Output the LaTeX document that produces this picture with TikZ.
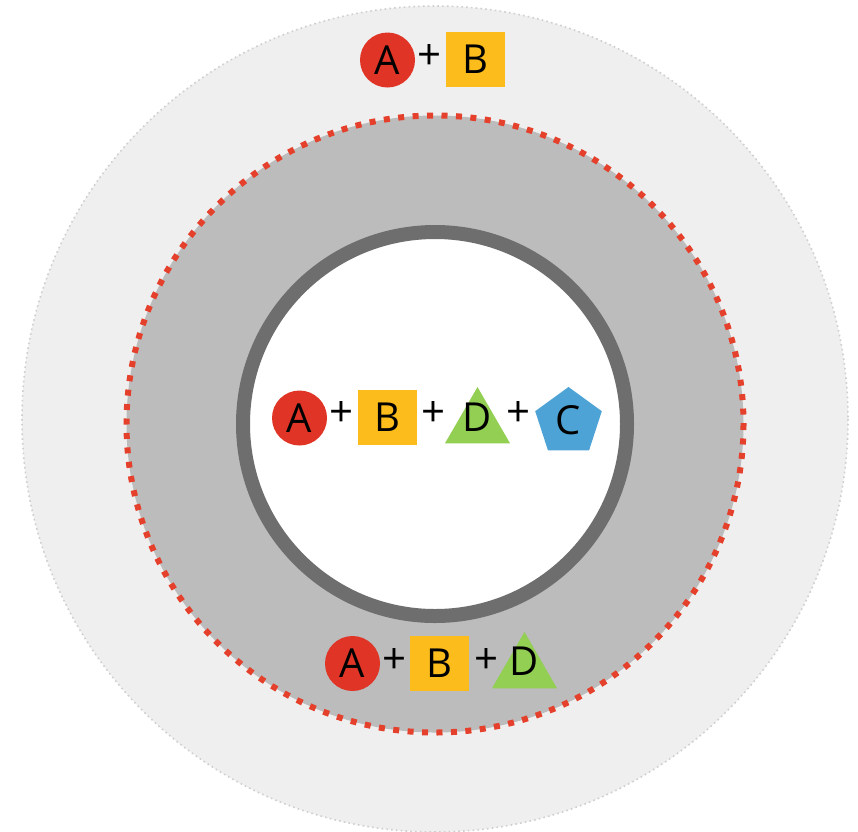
\documentclass[tikz,border=0pt]{standalone}
\usepackage{fontspec}
\setmainfont{Open Sans}
\usetikzlibrary{shapes.geometric}
\definecolor{redA}{HTML}{DF3426}
\definecolor{yelB}{HTML}{FBBC1C}
\definecolor{grnD}{HTML}{92CF53}
\definecolor{bluC}{HTML}{4DA3D5}
\definecolor{ringdark}{HTML}{6E6E6E}
\definecolor{ringfill}{HTML}{BBBCBB}
\definecolor{outerfill}{HTML}{EFEFEF}
\definecolor{outerline}{HTML}{CFCFCF}
\definecolor{dotred}{HTML}{E5402B}
\tikzset{
  x=1pt, y=-1pt,
  letter/.style={inner sep=0pt, font=\fontsize{40}{40}\selectfont, text=black},
  plussign/.style={inner sep=0pt, font=\fontsize{42}{42}\selectfont, text=black},
  circA/.style={circle, fill=redA, minimum size=55pt, inner sep=0pt},
  sqB/.style={rectangle, fill=yelB, minimum width=59pt, minimum height=55pt, inner sep=0pt},
  triD/.style={regular polygon, regular polygon sides=3, fill=grnD, minimum size=75pt, inner sep=0pt},
  pentC/.style={regular polygon, regular polygon sides=5, fill=bluC, minimum size=70pt, inner sep=0pt},
}
\begin{document}
\begin{tikzpicture}
\useasboundingbox (0,0) rectangle (858,831);
\fill[white] (0,0) rectangle (858,831);
% outer zone
\fill[outerfill] (435,419) circle[radius=413];
\draw[outerline, line width=1.6pt, dash pattern=on 1.6pt off 3.2pt] (435,419) circle[radius=413];
% middle zone
\fill[ringfill] (435,424) circle[radius=308.5];
\draw[dotred, line width=6pt, dash pattern=on 6pt off 8.46pt] (435,424) circle[radius=308.5];
% inner zone with its dark wall
\fill[white] (435,424) circle[radius=192];
\draw[ringdark, line width=14pt] (435,424) circle[radius=192];

% top row: A + B
\node[circA] (tA) at (387.5,60) {};
\node[letter] (tAl) at (tA.center) {A};
\node[plussign] (tp1) at (429,57) {+};
\node[sqB] (tB) at (475,59.5) {};
\node[letter] (tBl) at (tB.center) {B};

% middle row: A + B + D + C
\node[circA] (mA) at (299.5,418) {};
\node[letter] (mAl) at (mA.center) {A};
\node[plussign] (mp1) at (342,414) {+};
\node[sqB] (mB) at (387,417.5) {};
\node[letter] (mBl) at (mB.center) {B};
\node[plussign] (mp2) at (433,414) {+};
\node[triD] (mD) at (477.5,424.5) {};
\node[letter] (mDl) at (477.5,417) {D};
\node[plussign] (mp3) at (518,414) {+};
\node[pentC] (mC) at (568.5,422) {};
\node[letter] (mCl) at (568.5,420) {C};

% bottom row: A + B + D
\node[circA] (bA) at (352.5,663.5) {};
\node[letter] (bAl) at (bA.center) {A};
\node[plussign] (bp1) at (395,661) {+};
\node[sqB] (bB) at (439,663) {};
\node[letter] (bBl) at (bB.center) {B};
\node[plussign] (bp2) at (486,661) {+};
\node[triD] (bD) at (524.5,669.5) {};
\node[letter] (bDl) at (524.5,661) {D};
\end{tikzpicture}
\end{document}
